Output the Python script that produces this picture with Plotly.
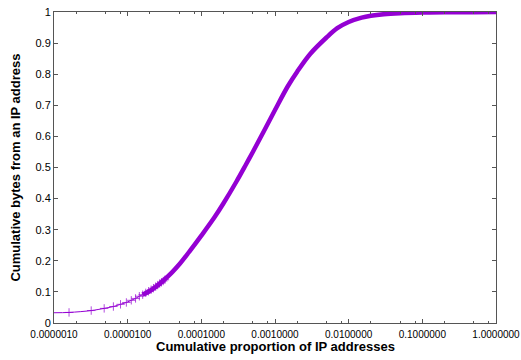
import plotly.graph_objects as go

PURPLE = "#9400D3"
AXIS = "#555555"

# Sparse leading points (individual markers visible), x = k / N
sparse_x = [1.0e-6, 1.6e-6, 3.2e-6, 4.8e-6, 6.4e-6, 8.0e-6, 9.6e-6, 1.12e-5, 1.28e-5,
            1.44e-5, 1.6e-5, 1.76e-5, 1.92e-5, 2.08e-5, 2.24e-5, 2.4e-5, 2.56e-5,
            2.72e-5, 2.88e-5, 3.04e-5, 3.2e-5]
sparse_y = [0.033, 0.034, 0.040, 0.047, 0.053, 0.060, 0.066, 0.073, 0.079,
            0.086, 0.091, 0.097, 0.102, 0.107, 0.112, 0.117, 0.122,
            0.127, 0.131, 0.135, 0.139]
sparse_marker = [0] + [6] * (len(sparse_x) - 1)

# Dense part of the curve (markers merge into a thick band)
dense_x = [1.6e-5, 2.0e-5, 2.5e-5, 3.0e-5, 4.0e-5, 5.0e-5, 7.0e-5, 1.0e-4, 1.5e-4,
           2.0e-4, 3.0e-4, 4.0e-4, 5.0e-4, 7.0e-4, 1.0e-3, 1.5e-3, 2.0e-3, 3.0e-3,
           5.0e-3, 7.0e-3, 1.0e-2, 1.5e-2, 2.0e-2, 3.0e-2, 5.0e-2, 1.0e-1, 2.0e-1,
           5.0e-1, 1.0]
dense_y = [0.091, 0.103, 0.119, 0.135, 0.163, 0.188, 0.232, 0.281, 0.339,
           0.385, 0.455, 0.508, 0.550, 0.615, 0.685, 0.762, 0.808, 0.865,
           0.918, 0.948, 0.968, 0.982, 0.988, 0.993, 0.996, 0.998, 0.999,
           0.9995, 1.0]

x_tickvals = [1e-6, 1e-5, 1e-4, 1e-3, 1e-2, 1e-1, 1]
x_ticktext = ["0.0000010", "0.0000100", "0.0001000", "0.0010000",
              "0.0100000", "0.1000000", "1.0000000"]
x_minor = [m * d for d in [1e-6, 1e-5, 1e-4, 1e-3, 1e-2, 1e-1] for m in (2, 5, 8)]
y_tickvals = [0, 0.1, 0.2, 0.3, 0.4, 0.5, 0.6, 0.7, 0.8, 0.9, 1]
y_ticktext = ["0", "0.1", "0.2", "0.3", "0.4", "0.5", "0.6", "0.7", "0.8", "0.9", "1"]

fig = go.Figure()
fig.add_trace(go.Scatter(
    x=dense_x, y=dense_y, mode="lines",
    line=dict(color=PURPLE, width=4.5, shape="spline"),
    hoverinfo="skip"))
fig.add_trace(go.Scatter(
    x=sparse_x, y=sparse_y, mode="lines+markers",
    line=dict(color=PURPLE, width=1, shape="spline"),
    marker=dict(symbol="cross-thin", size=sparse_marker,
                line=dict(color=PURPLE, width=1)),
    cliponaxis=False))

fig.update_layout(
    width=521, height=360,
    margin=dict(l=54, r=25, t=12, b=37),
    plot_bgcolor="white", paper_bgcolor="white",
    showlegend=False,
    font=dict(family="Liberation Sans, Arial, sans-serif", color="black"),
    xaxis=dict(
        type="log", range=[-6, 0], automargin=False,
        tickmode="array", tickvals=x_tickvals, ticktext=x_ticktext,
        ticks="inside", ticklen=4, tickcolor=AXIS, tickwidth=1,
        showline=True, linecolor=AXIS, linewidth=1, mirror="ticks",
        showgrid=False, zeroline=False,
        tickfont=dict(size=10), ticklabelstandoff=2,
        minor=dict(tickmode="array", tickvals=x_minor, ticks="inside",
                   ticklen=2, tickcolor=AXIS, showgrid=False),
    ),
    yaxis=dict(
        range=[0, 1], automargin=False,
        tickmode="array", tickvals=y_tickvals, ticktext=y_ticktext,
        ticks="inside", ticklen=4, tickcolor=AXIS, tickwidth=1,
        showline=True, linecolor=AXIS, linewidth=1, mirror="ticks",
        showgrid=False, zeroline=False,
        tickfont=dict(size=11),
    ),
    annotations=[
        dict(text="<b>Cumulative proportion of IP addresses</b>",
             xref="paper", yref="paper", x=0.5, y=-0.077,
             xanchor="center", yanchor="middle", showarrow=False,
             font=dict(size=13)),
        dict(text="<b>Cumulative bytes from an IP address</b>",
             xref="paper", yref="paper", x=-0.088, y=0.5,
             xanchor="center", yanchor="middle", showarrow=False,
             textangle=-90, font=dict(size=13)),
    ],
)

fig.write_html("out.html")
